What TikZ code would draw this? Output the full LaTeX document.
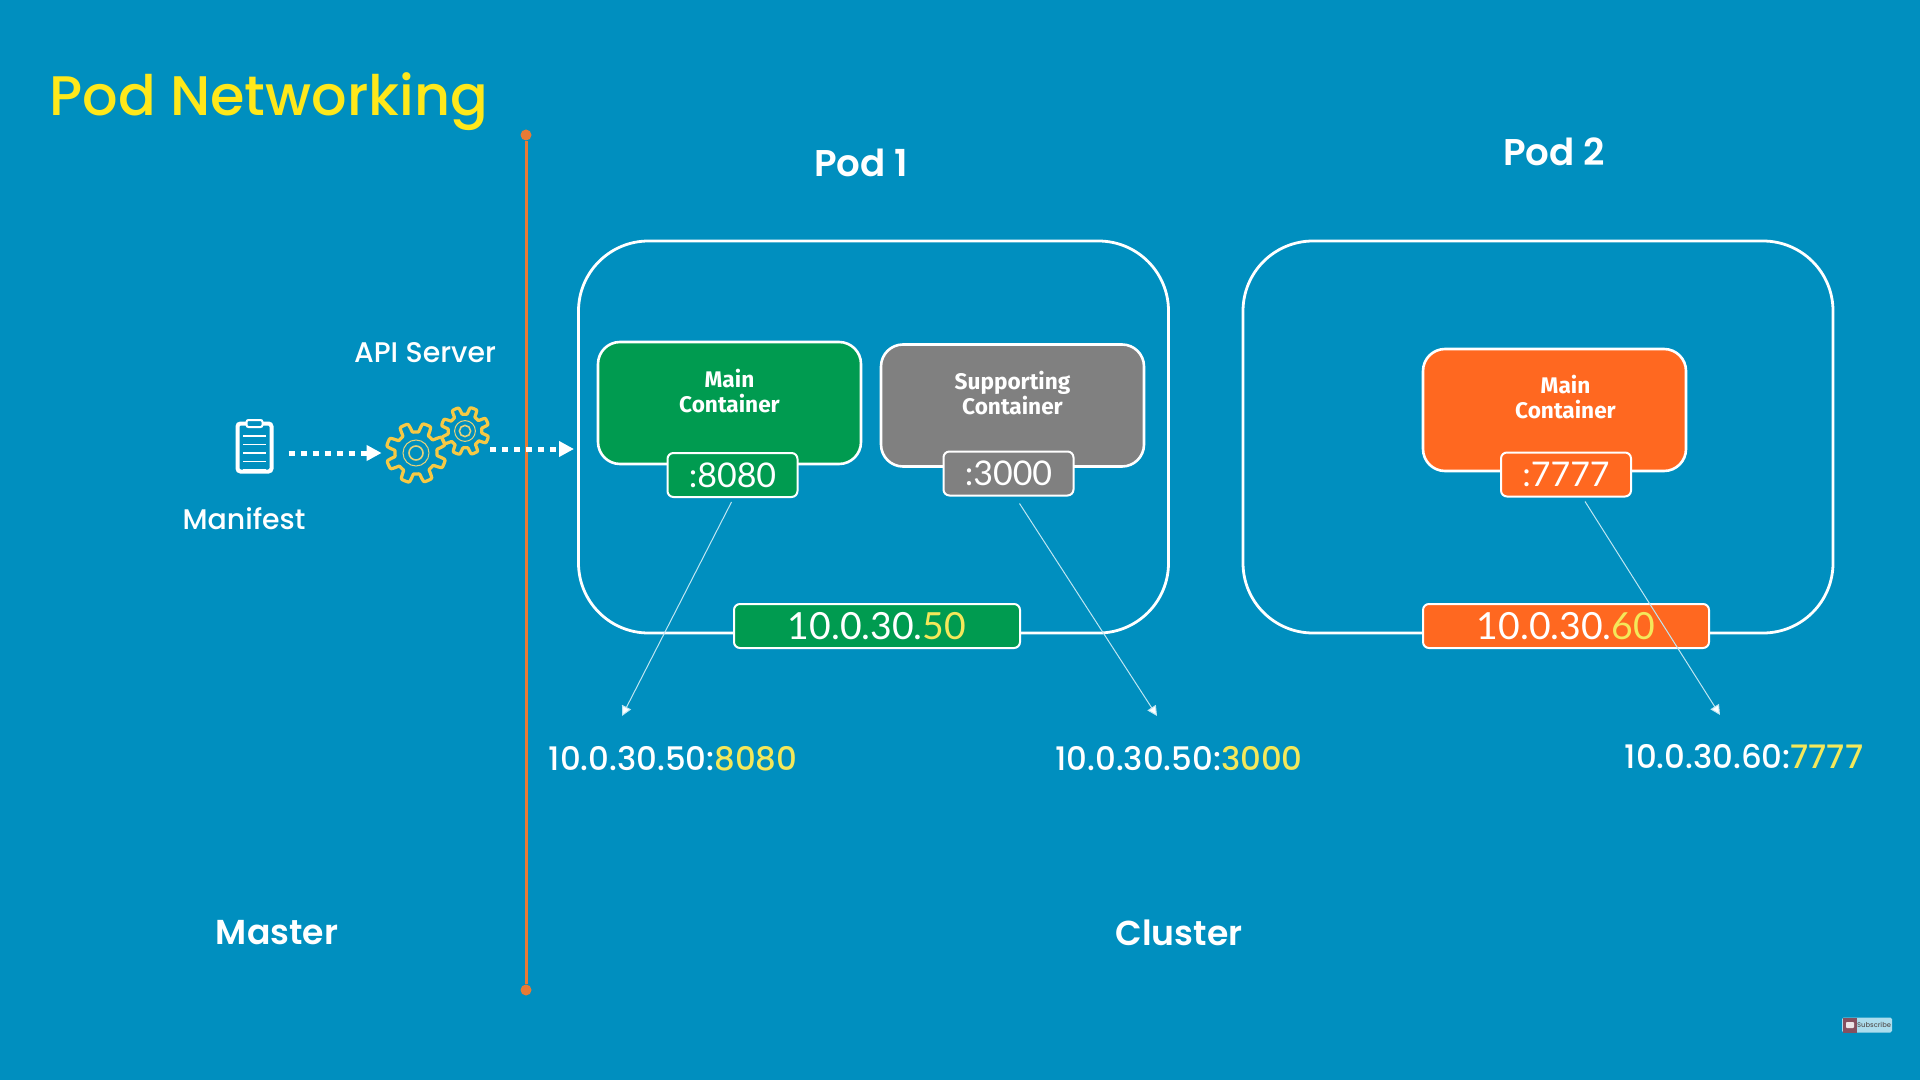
\documentclass[tikz,border=0pt]{standalone}
\usepackage{fontspec}
\setmainfont{Poppins Medium}
\newfontfamily\semifont{Poppins SemiBold}
\newfontfamily\latofont{Lato}
\newfontfamily\firafont{Fira Sans}
\usetikzlibrary{positioning, arrows.meta}

\definecolor{bgblue}{HTML}{008FBF}
\definecolor{titleyellow}{HTML}{FFE81A}
\definecolor{ipyellow}{HTML}{F4E85A}
\definecolor{gearyellow}{HTML}{F6C945}
\definecolor{linkorange}{HTML}{E87A35}
\definecolor{boxgreen}{HTML}{009B50}
\definecolor{boxgrey}{HTML}{808080}
\definecolor{boxorange}{HTML}{FF6820}
\definecolor{thinblue}{HTML}{BFE6F2}
\definecolor{subred}{HTML}{85505F}

\newcommand{\yl}[1]{\textcolor{ipyellow}{#1}}

\tikzset{
  gear/.pic={
    \draw[gearyellow, line width=1.6pt, line join=round]
      plot[smooth cycle, variable=\t, domain=0:357.5, samples=144]
      ({(25.5+4.5*max(min(2.5*sin(8*\t),1),-1))*cos(\t+10)},
       {(25.5+4.5*max(min(2.5*sin(8*\t),1),-1))*sin(\t+10)});
    \draw[gearyellow!70!thinblue, line width=0.5pt] (0,0) circle (13);
    \draw[gearyellow!70!thinblue, line width=0.8pt] (0,0) circle (7);
  }
}

\begin{document}
\begin{tikzpicture}[x=0.5pt, y=-0.5pt, node distance=36pt, every node/.style={text=white},
podbox/.style={draw=white, line width=1.4pt, rounded corners=35pt, minimum width=295pt, minimum height=196pt, inner sep=0pt},
mainbox/.style={draw=white, line width=1.3pt, rounded corners=11pt, minimum width=131.5pt, minimum height=61pt, inner sep=0pt},
portbox/.style={draw=white, line width=1pt, rounded corners=3pt, minimum width=65pt, minimum height=22pt, inner sep=0pt, font=\latofont\fontsize{17}{20}\selectfont},
ipbox/.style={draw=white, line width=1pt, rounded corners=3pt, minimum height=22pt, inner sep=0pt, font=\latofont\fontsize{18.7}{22}\selectfont},
boxtext/.style={align=center, font=\firafont\bfseries\fontsize{11.3}{12.5}\selectfont},
plainlabel/.style={font=\fontsize{14.2}{17}\selectfont},
biglabel/.style={font=\semifont\fontsize{17.3}{21}\selectfont},
podlabel/.style={font=\semifont\fontsize{18.6}{21}\selectfont},
iplabel/.style={font=\fontsize{16.2}{19}\selectfont},
dotarrow/.style={white, line width=2.5pt, dash pattern=on 3.2pt off 2.8pt, -{Triangle[length=7.5pt, width=7.5pt]}},
thinarrow/.style={thinblue, line width=0.5pt, -{Triangle[length=5pt, width=5pt, fill=white]}},
enddot/.style={circle, fill=linkorange, minimum size=5.5pt, inner sep=0pt}]

\fill[bgblue] (0,0) rectangle (1920,1080);

\node[anchor=base west, inner sep=0pt, text=titleyellow, font=\fontsize{27.85}{34}\selectfont] (title) at (49,116) {Pod Networking};

% master / cluster divider
\node[enddot] (divtop) at (526,135) {};
\node[enddot] (divbot) at (526,990) {};
\draw[linkorange, line width=1.5pt] (divtop) -- (divbot);

\node[biglabel] (master) at (277,933) {Master};
\node[biglabel] (cluster) at (1179,933) {Cluster};

% pods
\node[podbox] (pod1) at (873.5,437) {};
\node[podbox] (pod2) at (1538,437) {};
\node[podlabel] (pod1txt) at (861,163) {Pod 1};
\node[podlabel] (pod2txt) at (1554,152) {Pod 2};

\node[mainbox, fill=boxgreen] (main1) at (729.5,403) {};
\node[mainbox, fill=boxgrey] (supp1) at (1012.5,405.5) {};
\node[mainbox, fill=boxorange] (main2) at (1554.5,410) {};
\node[boxtext] (main1txt) at ([yshift=6pt]main1) {Main\\Container};
\node[boxtext] (supp1txt) at ([yshift=6pt]supp1) {Supporting\\Container};
\node[boxtext] (main2txt) at ([xshift=5.5pt, yshift=6.5pt]main2) {Main\\Container};

\node[portbox, fill=boxgreen] (port1) [below of=main1, xshift=1.5pt] {:8080};
\node[portbox, fill=boxgrey] (port2) [below of=supp1, xshift=-2pt, yshift=2pt] {:3000};
\node[portbox, fill=boxorange] (port3) [below of=main2, xshift=5.75pt, yshift=3.75pt] {:7777};

\node[ipbox, fill=boxgreen, minimum width=143pt] (ip1) at (877,626) {10.0.30.\yl{50}};
\node[ipbox, fill=boxorange, minimum width=143pt] (ip2) at (1566,626) {10.0.30.\yl{60}};

\node[iplabel] (addr1) at (673,759) {10.0.30.50:\yl{8080}};
\node[iplabel] (addr2) at (1179,759) {10.0.30.50:\yl{3000}};
\node[iplabel] (addr3) at (1744,757) {10.0.30.60:\yl{7777}};

\coordinate (addr1end) at (622,716);
\coordinate (addr2end) at (1157,716);
\coordinate (addr3end) at (1720,715);

\draw[thinarrow] ([xshift=-0.5pt,yshift=-2pt]port1.south) -- (addr1end);
\draw[thinarrow] ([xshift=5.5pt,yshift=-3.5pt]port2.south) -- (addr2end);
\draw[thinarrow] ([xshift=9.5pt,yshift=-2pt]port3.south) -- (addr3end);

% manifest and api server
\node[draw=white, line width=2pt, rounded corners=1.5pt, minimum width=17pt, minimum height=24pt, inner sep=0pt] (clip) at (254.5,447.5) {};
\node[draw=white, fill=bgblue, line width=1pt, rounded corners=1pt, minimum width=8pt, minimum height=3.5pt, inner sep=0pt] (clipbar) at ([yshift=12pt]clip) {};
\foreach \i in {0,...,4}
  \draw[white, line width=0.9pt] (243,436+\i*8.5) -- (266,436+\i*8.5);
\node[plainlabel] (manifest) at (244,519) {Manifest};
\node[plainlabel] (apilabel) at (425,353) {API Server};

\node[minimum size=34pt, inner sep=0pt] (gear1) at (416,453) {};
\node[minimum size=25pt, inner sep=0pt] (gear2) at (465,431) {};
\pic at (gear1) {gear};
\pic[scale=0.8] at (gear2) {gear};

\coordinate (apiout) at (490,449);
\coordinate (apiin) at (574,449);
\draw[dotarrow, shorten <=7.5pt] (clip.east |- gear1) -- (gear1.west);
\draw[dotarrow] (apiout) -- (apiin);

% subscribe button
\node[fill=thinblue!90!bgblue, rounded corners=0.8pt, minimum width=25pt, minimum height=7.5pt, inner sep=0pt, text=black!65, font=\fontsize{3.4}{4}\selectfont] (subbtn) at (1867,1025) {\hspace{7pt}Subscribe};
\node[fill=subred, minimum width=7pt, minimum height=7.5pt, inner sep=0pt] (subicon) at (1850,1025) {};
\node[fill=white!85!subred, rounded corners=0.4pt, minimum width=4pt, minimum height=3pt, inner sep=0pt] (subplay) at (subicon) {};
\end{tikzpicture}
\end{document}
